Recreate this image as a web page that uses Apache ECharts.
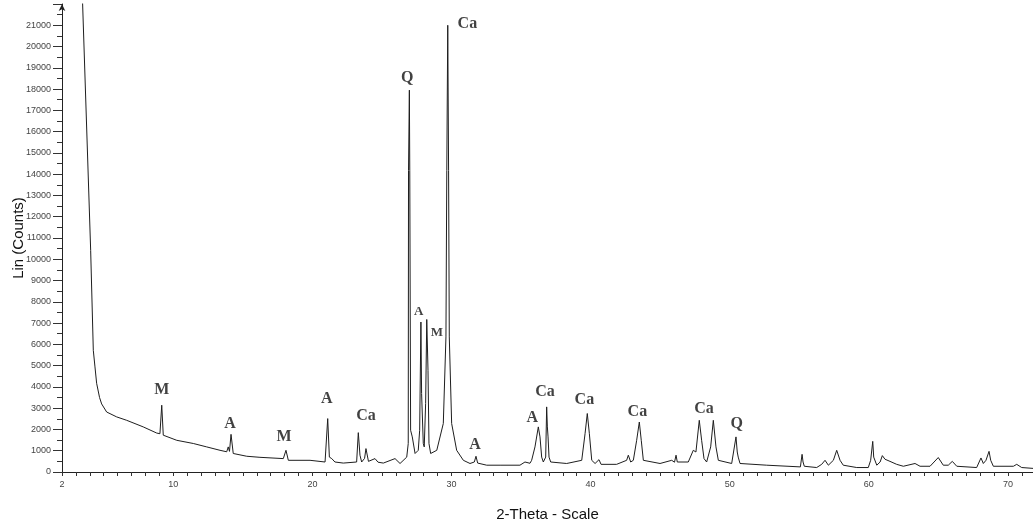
<!DOCTYPE html>
<html>
<head>
<meta charset="utf-8">
<title>XRD pattern</title>
<script src="https://cdn.jsdelivr.net/npm/echarts@6/dist/echarts.min.js"></script>
<style>
  html, body { margin: 0; padding: 0; background: #fff; }
  #xrdChart { width: 1033px; height: 529px; }
</style>
</head>
<body>
<div id="xrdChart"></div>
<script>
// diffractogram (2-theta in degrees, intensity in counts)
const twoTheta = [
  3.45, 4.06, 4.25, 4.37, 4.49, 4.70, 4.85, 5.21, 5.93, 6.65, 7.84, 8.81, 9.04, 9.17, 9.28,
  10.25, 11.44, 12.40, 13.36, 13.84, 13.95, 14.04, 14.15, 14.31, 15.28, 16.23, 17.91, 18.10, 18.27,
  19.83, 20.91, 21.10, 21.22, 21.39, 21.62, 22.22, 23.18, 23.30, 23.42, 23.54, 23.75, 23.85, 24.03,
  24.50, 24.72, 25.10, 25.94, 26.30, 26.78, 26.89, 26.91, 26.97, 27.00, 27.06, 27.18, 27.38,
  27.61, 27.71, 27.80, 27.85, 27.97, 28.04, 28.14, 28.22, 28.31, 28.38, 28.50,
  28.94, 29.41, 29.60, 29.66, 29.73, 29.79, 29.84, 30.01, 30.37, 30.85, 31.33, 31.64, 31.76, 31.88,
  32.53, 33.49, 34.92, 35.28, 35.64, 35.76, 36.00, 36.24, 36.36, 36.48, 36.60, 36.77, 36.84, 36.89,
  36.94, 37.01, 37.13, 38.28, 39.36, 39.60, 39.76, 39.91, 40.08, 40.32, 40.60, 40.75, 41.87,
  42.59, 42.71, 42.88, 43.07, 43.31, 43.50, 43.64, 43.79, 44.99, 45.83, 45.94, 46.03, 46.14, 46.23,
  47.02, 47.38, 47.57, 47.81, 47.98, 48.15, 48.34, 48.63, 48.82, 49.01, 49.18, 50.14, 50.45, 50.54,
  50.61, 50.74, 52.66, 55.08, 55.20, 55.27, 55.36, 56.25, 56.61, 56.85, 57.09, 57.45, 57.69, 57.93,
  58.16, 59.13, 59.96, 60.13, 60.28, 60.35, 60.42, 60.57, 60.81, 60.97, 61.16, 61.52, 62.00, 62.48,
  63.32, 63.68, 64.40, 64.99, 65.35, 65.71, 66.00, 66.32, 67.75, 68.06, 68.23, 68.42, 68.64, 68.76,
  68.95, 70.39, 70.63, 70.99, 71.80
];
const counts = [
  22650, 10420, 5720, 4940, 4170, 3500, 3200, 2820, 2590, 2430, 2120, 1830, 1800, 3140, 1730,
  1490, 1340, 1180, 1020, 950, 1180, 970, 1770, 870, 740, 690, 630, 1020, 550,
  550, 470, 2510, 700, 630, 470, 420, 470, 1850, 790, 470, 640, 1100, 500,
  630, 460, 420, 630, 400, 700, 1340, 14180, 17950, 14180, 1960, 1650, 870,
  1020, 1960, 7050, 3690, 1340, 1180, 3220, 7170, 4780, 1340, 870,
  1020, 2280, 6350, 14180, 21000, 14180, 6350, 2280, 1020, 550, 400, 470, 740, 420,
  320, 320, 320, 470, 410, 550, 1180, 2120, 1650, 700, 470, 700, 3060, 2120,
  1650, 700, 470, 400, 550, 1800, 2750, 1800, 550, 400, 580, 360, 360,
  550, 790, 470, 550, 1490, 2350, 1490, 550, 400, 550, 630, 460, 790, 470,
  470, 1020, 940, 2430, 1490, 630, 470, 1180, 2430, 1180, 550, 400, 1650, 940,
  700, 400, 320, 240, 830, 470, 270, 210, 360, 550, 320, 550, 1020, 550,
  320, 210, 210, 550, 1440, 700, 790, 320, 470, 770, 600, 500, 360, 270,
  400, 270, 270, 680, 320, 320, 500, 270, 210, 660, 400, 550, 970, 550,
  270, 270, 360, 210, 170
];

// phase marks written above the peaks
const markText = ['M', 'A', 'M', 'A', 'Ca', 'Q', 'Ca', 'A', 'M', 'A', 'A', 'Ca', 'Ca', 'Ca', 'Ca', 'Q'];
const markTheta = [9.17, 14.08, 17.96, 21.03, 23.85, 26.82, 31.14, 27.64, 28.94, 31.69, 35.81, 36.72, 39.55, 43.36, 48.15, 50.50];
const markCounts = [3840, 2280, 1650, 3450, 2620, 18540, 21080, 7520, 6550, 1260, 2560, 3760, 3370, 2820, 2980, 2280];

// the two crowded marks between the big peaks are set smaller
const smallMarks = [7, 8];

const lineData = twoTheta.map((t, i) => [t, counts[i]]);
const markData = markText.map((txt, i) => ({
  name: txt,
  value: [markTheta[i], markCounts[i]],
  label: { fontSize: smallMarks.includes(i) ? 13 : 16 }
}));

const chart = echarts.init(document.getElementById('xrdChart'));
chart.setOption({
  animation: false,
  grid: { left: 62, right: 0, top: 4, bottom: 57, outerBoundsMode: 'none' },
  xAxis: {
    type: 'value',
    min: 2,
    max: 71.8,
    interval: 1,
    name: '2-Theta - Scale',
    nameLocation: 'middle',
    nameGap: 35,
    nameMoveOverlap: false,
    nameTextStyle: { fontFamily: 'Liberation Sans', fontSize: 15, color: '#111' },
    axisLine: { lineStyle: { color: '#222', width: 1 } },
    axisTick: { length: 4, lineStyle: { color: '#333' } },
    axisLabel: {
      margin: 8,
      fontFamily: 'Liberation Sans',
      fontSize: 9,
      color: '#444',
      showMaxLabel: false,
      formatter: function (v) {
        return (v === 2 || Math.abs(v % 10) < 1e-6) ? String(Math.round(v)) : '';
      }
    },
    splitLine: { show: false }
  },
  yAxis: {
    type: 'value',
    min: 0,
    max: 22000,
    interval: 1000,
    name: 'Lin (Counts)',
    nameLocation: 'middle',
    nameGap: 36,
    nameMoveOverlap: false,
    nameTextStyle: { fontFamily: 'Liberation Sans', fontSize: 15, color: '#111' },
    axisLine: {
      show: true,
      symbol: ['none', 'arrow'],
      symbolSize: [5, 7],
      lineStyle: { color: '#222', width: 1 }
    },
    axisTick: { length: 9, lineStyle: { color: '#333' } },
    minorTick: { show: true, splitNumber: 2, length: 5, lineStyle: { color: '#333' } },
    axisLabel: {
      margin: 11,
      fontFamily: 'Liberation Sans',
      fontSize: 9,
      color: '#444',
      showMaxLabel: false,
      formatter: function (v) {
        return String(v);
      }
    },
    splitLine: { show: false }
  },
  series: [
    {
      type: 'line',
      data: lineData,
      showSymbol: false,
      clip: true,
      lineStyle: { color: '#1e1e1e', width: 1 }
    },
    {
      type: 'scatter',
      data: markData,
      symbolSize: 1,
      silent: true,
      itemStyle: { color: 'rgba(0,0,0,0)' },
      label: {
        show: true,
        position: 'inside',
        formatter: '{b}',
        fontFamily: 'Liberation Serif',
        fontWeight: 'bold',
        color: '#111'
      }
    }
  ]
});
</script>
</body>
</html>
